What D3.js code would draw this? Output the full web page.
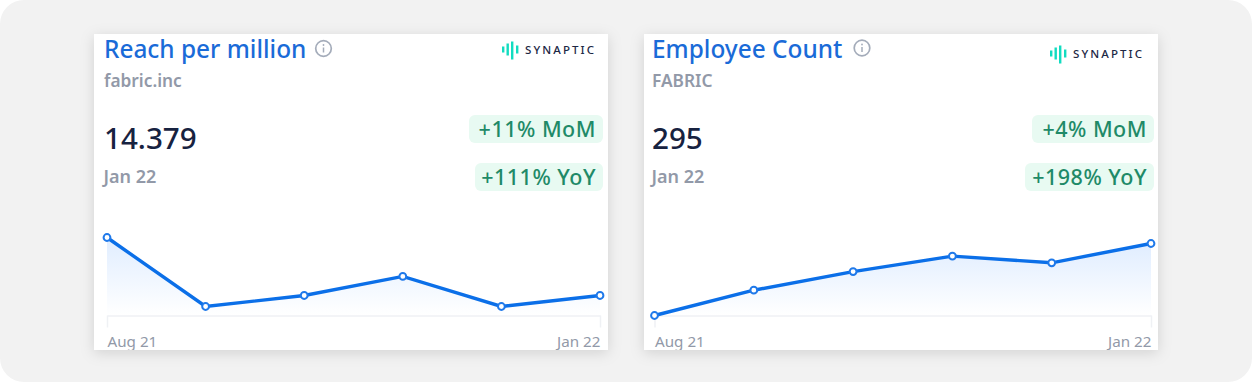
<!DOCTYPE html>
<html>
<head>
<meta charset="utf-8">
<script src="https://cdn.jsdelivr.net/npm/d3@7"></script>
<style>
  html, body { margin: 0; padding: 0; background: #fff; }
  svg { display: block; font-family: "Noto Sans", sans-serif; }
  .card { filter: drop-shadow(0 3px 7px rgba(0,0,0,0.13)); }
</style>
</head>
<body>
<div id="chart"></div>
<script>
const W = 1252, H = 382;

const months = ["Aug 21", "Sep 21", "Oct 21", "Nov 21", "Dec 21", "Jan 22"];
const reachValues = [21.9, 12.95, 14.38, 16.85, 12.95, 14.379];
const employeeValues = [254, 268.4, 279, 287.8, 284, 295];
const titles = ["Reach per million", "Employee Count"];
const companies = ["fabric.inc", "FABRIC"];
const headlines = ["14.379", "295"];
const momLabels = ["+11% MoM", "+4% MoM"];
const yoyLabels = ["+111% YoY", "+198% YoY"];

let svg = d3.select("#chart").append("svg")
            .attr("width", W)
            .attr("height", H);

let defs = svg.append("defs");

let grad = defs.append("linearGradient")
               .attr("id", "areaFill")
               .attr("x1", 0).attr("y1", 0)
               .attr("x2", 0).attr("y2", 1);
grad.append("stop").attr("offset", "0%").attr("stop-color", "#e0edff");
grad.append("stop").attr("offset", "100%").attr("stop-color", "#ffffff");

// grey rounded panel behind both cards
svg.append("rect")
   .attr("width", W).attr("height", H)
   .attr("rx", 24)
   .attr("fill", "#f2f2f2");

function drawBadge(g, right, y, w, label) {
  g.append("rect")
   .attr("x", right - w).attr("y", y)
   .attr("width", w).attr("height", 28)
   .attr("rx", 6)
   .attr("fill", "#e8faf2");
  g.append("text")
   .attr("x", right - 7).attr("y", y + 22)
   .attr("text-anchor", "end")
   .attr("font-size", 21.5)
   .attr("font-weight", 500)
   .attr("letter-spacing", 0.5)
   .attr("fill", "#1f8a68")
   .text(label);
}

function drawLogo(g, x, y) {
  const bars = [[0, -3, 6], [4.5, -6, 12], [9, -8, 18], [14, -4, 8]];
  g.selectAll("rect.logo-bar")
   .data(bars)
   .enter()
   .append("rect")
     .attr("class", "logo-bar")
     .attr("x", d => x + d[0])
     .attr("y", d => y + d[1])
     .attr("width", 2.4)
     .attr("height", d => d[2])
     .attr("fill", "#12dcc0");
  g.append("text")
   .attr("x", x + 23).attr("y", y + 4.5)
   .attr("font-size", 11.5)
   .attr("letter-spacing", 2.1)
   .attr("font-weight", 500)
   .attr("fill", "#1c2745")
   .text("SYNAPTIC");
}

function drawCard(i, values, opt) {
  let g = svg.append("g").attr("class", "card");

  g.append("rect")
   .attr("x", opt.x).attr("y", 34)
   .attr("width", 514).attr("height", 316)
   .attr("fill", "#fff");

  defs.append("clipPath").attr("id", "cardClip" + i)
      .append("rect")
      .attr("x", opt.x).attr("y", 34)
      .attr("width", 514).attr("height", 316);

  let c = svg.append("g").attr("clip-path", `url(#cardClip${i})`);

  c.append("text")
   .attr("x", opt.textX).attr("y", opt.titleY)
   .attr("font-size", 24.4)
   .attr("font-weight", 500)
   .attr("fill", "#1a6bd8")
   .text(titles[i]);

  // info icon
  c.append("circle")
   .attr("cx", opt.infoX).attr("cy", opt.titleY - 9.5)
   .attr("r", 7.8)
   .attr("fill", "none")
   .attr("stroke", "#a4acba")
   .attr("stroke-width", 1.7);
  c.append("line")
   .attr("x1", opt.infoX).attr("x2", opt.infoX)
   .attr("y1", opt.titleY - 10.5).attr("y2", opt.titleY - 5.5)
   .attr("stroke", "#a4acba").attr("stroke-width", 1.5);
  c.append("circle")
   .attr("cx", opt.infoX).attr("cy", opt.titleY - 13)
   .attr("r", 0.9)
   .attr("fill", "#a4acba");

  c.append("text")
   .attr("x", opt.textX).attr("y", 87)
   .attr("font-size", 17.3)
   .attr("font-weight", 600)
   .attr("fill", "#9299a8")
   .text(companies[i]);

  c.append("text")
   .attr("x", opt.textX).attr("y", 149)
   .attr("font-size", 29.6)
   .attr("font-weight", 500)
   .attr("fill", "#172240")
   .text(headlines[i]);

  c.append("text")
   .attr("x", opt.textX - 0.5).attr("y", 183)
   .attr("font-size", 18)
   .attr("font-weight", 600)
   .attr("fill", "#9299a8")
   .text(months[5]);

  drawLogo(c, opt.logoX, 49.5 + opt.logoDy);
  drawBadge(c, opt.badgeRight, 115, opt.momW, momLabels[i]);
  drawBadge(c, opt.badgeRight, 163, opt.yoyW, yoyLabels[i]);

  // x-scale over the months, y-scale fitted to the series
  let xScale = d3.scalePoint(months, [opt.left, opt.right]);
  let yScale = d3.scaleLinear(d3.extent(values), opt.yRange);
  const baseY = 315.5;

  let area = d3.area()
               .x((d, k) => xScale(months[k]))
               .y0(baseY)
               .y1(d => yScale(d));
  let line = d3.line()
               .x((d, k) => xScale(months[k]))
               .y(d => yScale(d));

  c.append("path")
   .datum(values)
   .attr("d", area)
   .attr("fill", "url(#areaFill)");

  // axis: only the two end ticks carry a label
  let xAxis = d3.axisBottom(xScale)
                .tickValues([months[0], months[5]])
                .tickSize(12)
                .tickSizeOuter(0)
                .tickPadding(8.5);
  let ax = c.append("g")
            .attr("transform", `translate(0, ${baseY})`)
            .call(xAxis);
  ax.select(".domain").attr("stroke", "#eff1f4").attr("stroke-width", 1.5);
  ax.selectAll(".tick line").attr("stroke", "#eff1f4").attr("stroke-width", 1.5);
  ax.selectAll(".tick text")
    .attr("font-family", '"Noto Sans", sans-serif')
    .attr("font-size", 15.2)
    .attr("fill", "#9299a8")
    .attr("text-anchor", (d, k) => k == 0 ? "start" : "end");

  c.append("path")
   .datum(values)
   .attr("d", line)
   .attr("fill", "none")
   .attr("stroke", "#0b6fe8")
   .attr("stroke-width", 3.4);

  c.selectAll("circle.pt")
   .data(values)
   .enter()
   .append("circle")
     .attr("class", "pt")
     .attr("cx", (d, k) => xScale(months[k]))
     .attr("cy", d => yScale(d))
     .attr("r", 3.4)
     .attr("fill", "#fff")
     .attr("stroke", "#1f79ea")
     .attr("stroke-width", 2);
}

drawCard(0, reachValues, {
  x: 94, textX: 104, titleY: 58, infoX: 323.5, logoX: 502, logoDy: 0,
  badgeRight: 603, momW: 134, yoyW: 128,
  left: 107, right: 600, yRange: [306.5, 237.5]
});
drawCard(1, employeeValues, {
  x: 644, textX: 652, titleY: 57.5, infoX: 862, logoX: 1050, logoDy: 4,
  badgeRight: 1154, momW: 122, yoyW: 129,
  left: 654.5, right: 1151, yRange: [315.5, 243.5]
});
</script>
</body>
</html>
